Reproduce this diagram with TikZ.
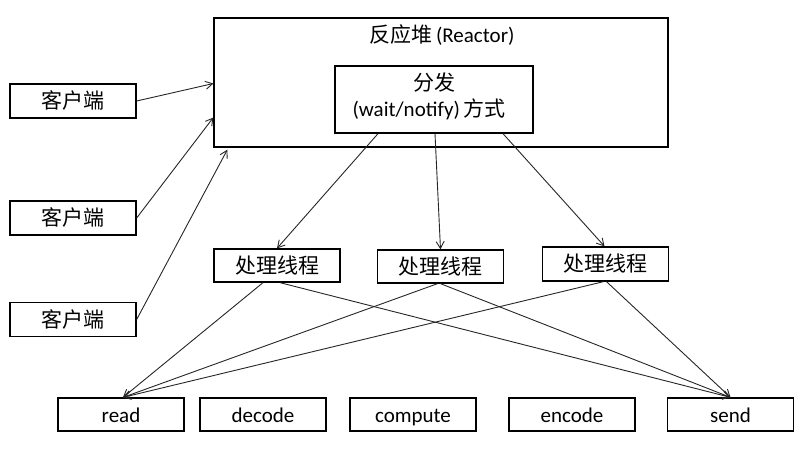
\documentclass[tikz,border=0pt]{standalone}
\usepackage{fontspec}
\setmainfont{Carlito}
\newfontfamily\cjk{Noto Sans CJK SC}
\usetikzlibrary{arrows.meta}
\newcommand{\zh}[1]{{\cjk #1}}
\tikzset{
  box/.style={draw=black, line width=1.3pt, minimum width=126pt, minimum height=34pt, inner sep=0pt, text height=19.5pt, text depth=4pt, font=\fontsize{21}{23}\selectfont},
  conn/.style={draw=black!85, line width=0.9pt, -{Straight Barb[length=7pt,width=8pt]}},
  lbl/.style={inner sep=0pt, text height=14.5pt, text depth=4pt, font=\fontsize{21}{23}\selectfont}
}
\begin{document}
\begin{tikzpicture}[x=1pt,y=-1pt]
\useasboundingbox (0,0) rectangle (800,451);
% reactor
\node[box, minimum width=454pt, minimum height=129pt] (reactor) at (441,82.5) {};
\node[lbl] (title) at (442,37) {\zh{反应堆}\,(Reactor)};
\node[box, minimum width=198pt, minimum height=67pt] (inner) at (434,99.5) {};
\node[lbl] (d1) at (434,85) {\zh{分发}};
\node[lbl] (d2) at (429,111) {(wait/notify)\,\zh{方式}};
% clients
\node[box] (c1) at (73,101) {\zh{客户端}};
\node[box] (c2) at (73,218) {\zh{客户端}};
\node[box] (c3) at (73,319.5) {\zh{客户端}};
% threads
\node[box, minimum height=33pt] (t1) at (277,265.5) {\zh{处理线程}};
\node[box, minimum height=33pt] (t2) at (440.5,266.5) {\zh{处理线程}};
\node[box] (t3) at (605.5,264) {\zh{处理线程}};
% bottom
\node[box, minimum height=33pt] (read) at (121,414.5) {read};
\node[box, minimum height=33pt] (decode) at (263,414.5) {decode};
\node[box, minimum height=33pt] (compute) at (413,414.5) {compute};
\node[box, minimum height=33pt] (encode) at (572,414.5) {encode};
\node[box, minimum height=33pt] (send) at (730.5,414.5) {send};
% client arrows
\draw[conn] (c1.east) -- ([yshift=-1pt]reactor.west);
\draw[conn] (c2.east) -- ([yshift=-35pt]reactor.west);
\draw[conn] (c3.east) -- ([xshift=14pt,yshift=-2pt]reactor.south west);
% dispatch arrows
\draw[conn] ([xshift=-56pt]inner.south) -- (t1.north);
\draw[conn] ([xshift=1pt]inner.south) -- (t2.north);
\draw[conn] ([xshift=69pt]inner.south) -- ([xshift=-1pt]t3.north);
% thread to read/send
\draw[conn] ([xshift=-14pt]t1.south) -- ([xshift=2pt]read.north);
\draw[conn] ([xshift=3pt]t1.south) -- (send.north);
\draw[conn] ([xshift=-3pt]t2.south) -- ([xshift=2pt]read.north);
\draw[conn] (t2.south) -- (send.north);
\draw[conn] ([xshift=-2pt]t3.south) -- ([xshift=2pt]read.north);
\draw[conn] ([xshift=1pt]t3.south) -- (send.north);
\end{tikzpicture}
\end{document}
